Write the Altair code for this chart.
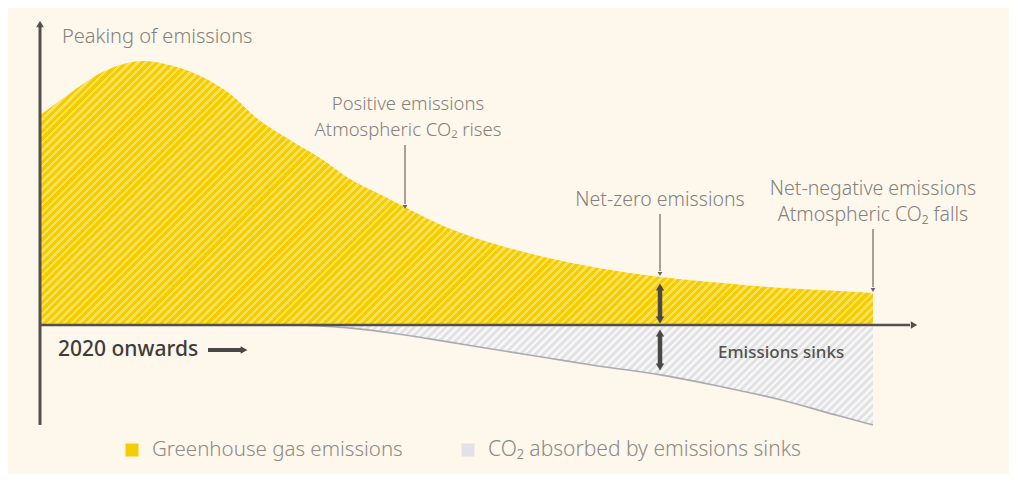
import altair as alt
import pandas as pd

# ---------------- data ----------------
# time index: 0 = start (2020), 100 = end of drawn horizon
t_emissions = [0, 2.5, 5, 7.5, 10, 12.5, 15, 19, 23, 26, 30, 34, 37, 41, 44, 49, 55, 61, 67, 74.5, 82, 89, 96, 100]
emissions = [79.5, 85.2, 90.9, 95.8, 98.9, 100, 98.9, 94.7, 87.1, 78.4, 70.1, 62.5, 55.7, 49.2, 44.3,
             36.7, 30.3, 25.4, 21.6, 18.2, 15.9, 14.0, 12.9, 12.1]

t_sinks = [31, 37, 43, 49, 55, 61, 67, 74.5, 82, 89, 96, 100]
sinks = [0, -1.1, -3.4, -6.4, -9.5, -12.5, -15.5, -18.9, -23.5, -28.4, -34.5, -37.9]

legend_labels = ["Greenhouse gas emissions", "CO\u2082 absorbed by emissions sinks"]
peak_label = ["Peaking of emissions"]
positive_label = ["Positive emissions", "Atmospheric CO\u2082 rises"]
netzero_label = ["Net-zero emissions"]
netneg_label = ["Net-negative emissions", "Atmospheric CO\u2082 falls"]
start_label = ["2020 onwards"]
sinks_label = ["Emissions sinks"]

# ---------------- layout / style ----------------
W, H = 1001, 466
X_DOM = [-3.8415, 116.33]
Y_DOM = [-56.44, 120.08]
BG = "#fdf7ec"
YEL_DARK, YEL_LIGHT = "#f5cc00", "#fae15a"
GRY_DARK, GRY_LIGHT = "#e2e2e5", "#f6f6f6"
AXIS = "#55504c"
TXT = "#85817c"
FONT = "Noto Sans"

xs = alt.Scale(domain=X_DOM, range=[0, W], nice=False, zero=False)
ys = alt.Scale(domain=Y_DOM, range=[H, 0], nice=False, zero=False)
px_t = W / (X_DOM[1] - X_DOM[0])
px_v = H / (Y_DOM[1] - Y_DOM[0])


def stripes(c1, c2, w_px, h_px, period=5.5, frac=0.55):
    k = (w_px + h_px) * w_px / (w_px ** 2 + h_px ** 2)
    n = (w_px + h_px) / (period * 2 ** 0.5)
    step = 1.0 / n
    stops = []
    o = 0.0
    while o < 1.0:
        b = min(o + frac * step, 1.0)
        c = min(o + step, 1.0)
        stops += [alt.GradientStop(offset=round(o, 5), color=c1),
                  alt.GradientStop(offset=round(b, 5), color=c1),
                  alt.GradientStop(offset=round(b, 5), color=c2),
                  alt.GradientStop(offset=round(c, 5), color=c2)]
        o += step
    return alt.LinearGradient(gradient="linear", stops=stops, x1=0, y1=0,
                              x2=round(k, 5), y2=round(k * h_px / w_px, 5))


df_e = pd.DataFrame({"t": t_emissions, "v": emissions})
df_s = pd.DataFrame({"t": t_sinks, "v": sinks})

grad_y = stripes(YEL_DARK, YEL_LIGHT, (max(t_emissions) - min(t_emissions)) * px_t, max(emissions) * px_v)
grad_g = stripes(GRY_DARK, GRY_LIGHT, (max(t_sinks) - min(t_sinks)) * px_t, -min(sinks) * px_v,
                 frac=0.5)

X = alt.X("t:Q", scale=xs, axis=None)
Y = alt.Y("v:Q", scale=ys, axis=None)

area_e = alt.Chart(df_e).mark_area(interpolate="monotone", fill=grad_y, strokeWidth=0).encode(
    x=X, y=Y, y2=alt.datum(0))
area_s = alt.Chart(df_s).mark_area(interpolate="monotone", fill=grad_g, strokeWidth=0).encode(
    x=X, y=Y, y2=alt.datum(0))
line_s = alt.Chart(df_s).mark_line(interpolate="monotone", color="#acabae", strokeWidth=1.6).encode(
    x=X, y=Y)

one = pd.DataFrame({"a": [0]})


def rule(x, y, x2=None, y2=None, color=AXIS, width=1.5):
    enc = dict(x=alt.value(x), y=alt.value(y))
    if x2 is not None:
        enc["x2"] = alt.value(x2)
    if y2 is not None:
        enc["y2"] = alt.value(y2)
    return alt.Chart(one).mark_rule(color=color, strokeWidth=width, strokeCap="butt").encode(**enc)


def head(x, y, shape, size, color=AXIS):
    return alt.Chart(one).mark_point(shape=shape, filled=True, size=size, color=color, opacity=1,
                                     strokeWidth=0).encode(x=alt.value(x), y=alt.value(y))


def text(lines, x, y, size=19, color=TXT, align="center", weight=300, dy=26):
    layers = []
    for i, s in enumerate(lines):
        d = pd.DataFrame({"label": [s]})
        layers.append(alt.Chart(d).mark_text(font=FONT, fontSize=size, color=color, align=align,
                                             baseline="middle", fontWeight=weight).encode(
            x=alt.value(x), y=alt.value(y + i * dy), text="label:N"))
    return layers


# x-axis at value 0 (through the y scale)
x_axis = alt.Chart(pd.DataFrame({"z": [0]})).mark_rule(color=AXIS, strokeWidth=2.5).encode(
    x=alt.value(32), x2=alt.value(902), y=alt.Y("z:Q", scale=ys, axis=None))

layers = [
    area_e, area_s, line_s, x_axis,
    head(906, 317, "triangle-right", 55),
    rule(32, 16, y2=417, width=3),
    head(32, 16, "triangle-up", 60),
    # annotation arrows
    rule(397, 137, y2=196, color="#77726e", width=1.3), head(397, 199, "triangle-down", 22, "#66615d"),
    rule(652, 206, y2=263, color="#77726e", width=1.3), head(652, 266, "triangle-down", 22, "#66615d"),
    rule(865, 221, y2=279, color="#77726e", width=1.3), head(865, 282, "triangle-down", 22, "#66615d"),
    # double arrows
    rule(652, 281, y2=310, color="#4a4846", width=4.5),
    head(652, 279, "triangle-up", 70, "#4a4846"), head(652, 312, "triangle-down", 70, "#4a4846"),
    rule(652, 327, y2=356, color="#4a4846", width=4.5),
    head(652, 325, "triangle-up", 70, "#4a4846"), head(652, 359, "triangle-down", 70, "#4a4846"),
    # 2020 onwards arrow
    rule(200, 342, x2=233, color="#4a4846", width=4),
    head(236, 342, "triangle-right", 60, "#4a4846"),
]

layers += text(peak_label, 54, 29, size=20, align="left")
layers += text(positive_label, 400, 96, size=18.5)
layers += text(netzero_label, 652, 192, size=19.5)
layers += text(netneg_label, 865, 181, size=19.5)
layers += text(start_label, 50, 342, size=21, color="#3f3d3b", align="left", weight=500)
layers += text(sinks_label, 710, 345, size=17, color="#55524f", align="left", weight=500)

# legend (manual)
leg_colors = [YEL_DARK, "#e2e2e4"]
leg_sym_x = [124, 460]
leg_sizes = [20.5, 21]
for lab, col, sx, fs in zip(legend_labels, leg_colors, leg_sym_x, leg_sizes):
    layers.append(alt.Chart(pd.DataFrame({"label": [lab]})).mark_square(size=169, color=col, opacity=1).encode(
        x=alt.value(sx), y=alt.value(442)))
    layers += text([lab], sx + 20, 442, size=fs, color="#8e8a86", align="left")

chart = alt.layer(*layers).properties(
    width=W, height=H, background=BG, padding=0,
    autosize=alt.AutoSizeParams(type="none"),
).configure_view(stroke=None)

chart.save("out.html", embed_options={"renderer": "svg", "actions": False})
